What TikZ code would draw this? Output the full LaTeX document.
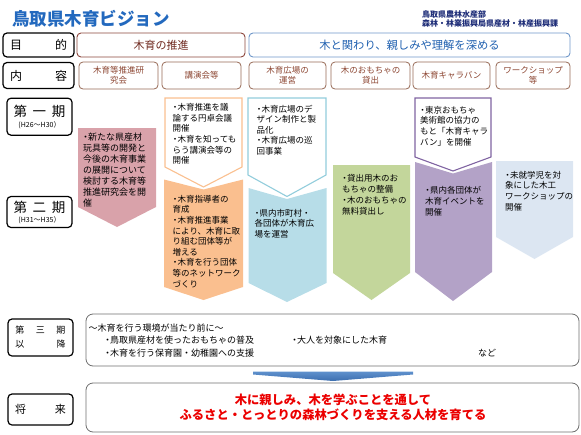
\documentclass[tikz,border=0pt]{standalone}
\usepackage{fontspec}
\setmainfont{Noto Sans CJK JP}
\definecolor{titleblue}{RGB}{35,105,190}
\definecolor{navy}{RGB}{30,45,120}
\definecolor{hdbrownline}{RGB}{140,70,60}
\definecolor{hdbrowntext}{RGB}{110,40,30}
\definecolor{hdblueline}{RGB}{110,150,200}
\definecolor{hdbluetext}{RGB}{30,95,175}
\definecolor{ctline}{RGB}{150,105,85}
\definecolor{cttext}{RGB}{140,70,50}
\definecolor{pinkfill}{RGB}{217,162,170}
\definecolor{orline}{RGB}{250,192,144}
\definecolor{orfill}{RGB}{250,191,143}
\definecolor{blline}{RGB}{146,205,220}
\definecolor{blfill}{RGB}{183,221,232}
\definecolor{grfill}{RGB}{195,214,155}
\definecolor{puline}{RGB}{128,100,162}
\definecolor{pufill}{RGB}{179,162,199}
\definecolor{lvfill}{RGB}{220,230,242}
\definecolor{grayline}{RGB}{110,110,110}
\definecolor{arrowtop}{RGB}{95,145,205}
\definecolor{arrowbot}{RGB}{60,110,175}
\definecolor{redtext}{RGB}{235,0,0}
\newcommand\jpbul{\makebox[5pt][c]{・}}
\begin{document}
\begin{tikzpicture}[x=1pt,y=-1pt,
  lblbox/.style={draw=black, line width=1.2pt, rounded corners=4pt, inner sep=0pt, align=center},
  hdbox/.style={draw, line width=0.9pt, rounded corners=4pt, inner sep=0pt, minimum height=24pt, font=\fontsize{11}{13}\selectfont},
  ctbox/.style={draw=ctline, line width=0.8pt, rounded corners=4pt, inner sep=0pt, minimum height=27pt, text=cttext, align=center, font=\fontsize{8.5}{10.5}\selectfont},
  bigbox/.style={draw=grayline, line width=0.8pt, rounded corners=7pt, inner sep=0pt, minimum width=493pt},
  coltext/.style={anchor=north west, inner sep=0pt, align=left, font=\fontsize{8.5}{10.6}\selectfont},
  txt/.style={inner sep=0pt}
]
\useasboundingbox (0,0) rectangle (581,434);

% title
\node[txt, anchor=west, text=titleblue, font=\fontsize{17.5}{20}\selectfont\bfseries] (title) at (12,18.5) {鳥取県木育ビジョン};
\node[txt, anchor=west, text=navy, font=\fontsize{8}{9}\selectfont\bfseries] (dept1) at (422,14) {鳥取県農林水産部};
\node[txt, anchor=west, text=navy, font=\fontsize{8}{9}\selectfont\bfseries] (dept2) at (422,23.5) {森林・林業振興局県産材・林産振興課};

% row labels
\node[lblbox, minimum width=71pt, minimum height=24pt, font=\fontsize{12}{14}\selectfont] (mokuteki) at (38.5,45) {\makebox[57pt]{目\hfill 的}};
\node[lblbox, minimum width=71pt, minimum height=26pt, font=\fontsize{12}{14}\selectfont] (naiyou) at (38.5,75.5) {\makebox[57pt]{内\hfill 容}};

% header boxes
\node[hdbox, draw=hdbrownline, text=hdbrowntext, minimum width=168pt] (suishin) at (161,45) {木育の推進};
\node[hdbox, draw=hdblueline, text=hdbluetext, minimum width=321pt, font=\fontsize{11.3}{13}\selectfont] (fukameru) at (409.5,45) {木と関わり、親しみや理解を深める};

% content boxes
\node[ctbox, minimum width=79pt] (c1) at (118.5,75.5) {木育等推進研\\究会};
\node[ctbox, minimum width=79pt] (c2) at (201.5,75.5) {講演会等};
\node[ctbox, minimum width=77pt] (c3) at (287.5,75.5) {木育広場の\\運営};
\node[ctbox, minimum width=79pt] (c4) at (370.5,75.5) {木のおもちゃの\\貸出};
\node[ctbox, minimum width=77pt] (c5) at (451.5,75.5) {木育キャラバン};
\node[ctbox, minimum width=74pt] (c6) at (533,75.5) {ワークショップ\\等};

% period labels
\node[lblbox, minimum width=65pt, minimum height=37pt] (ki1) at (39.5,116.7)
  {{\fontsize{13.5}{15}\selectfont\makebox[52pt]{第\hfill 一\hfill 期}}\\[-1pt]{\fontsize{7}{8}\selectfont (H26～H30）}};
\node[lblbox, minimum width=65pt, minimum height=31pt] (ki2) at (39.5,212)
  {{\fontsize{13.5}{15}\selectfont\makebox[52pt]{第\hfill 二\hfill 期}}\\[-2pt]{\fontsize{7}{8}\selectfont (H31～H35）}};

% column 1 (pink)
\fill[pinkfill] (78,128) -- (156,128) -- (156,207) -- (117,227) -- (78,207) -- cycle;
\node[coltext, font=\fontsize{9}{11}\selectfont] (t1) at (83,132.5) {\jpbul 新たな県産材\\玩具等の開発と\\今後の木育事業\\の展開について\\検討する木育等\\推進研究会を開\\催};

% column 2 (orange)
\draw[orline, line width=1.1pt, fill=white] (165,98) -- (242,98) -- (242,167) -- (203.5,187) -- (165,167) -- cycle;
\fill[orfill] (164,179.5) -- (203.5,189.5) -- (243,179.5) -- (243,287) -- (203.5,300) -- (164,287) -- cycle;
\node[coltext] (t2a) at (172.5,103.4) {\jpbul 木育推進を議\\論する円卓会議\\開催\\\jpbul 木育を知っても\\らう講演会等の\\開催};
\node[coltext] (t2b) at (172.5,195) {\jpbul 木育指導者の\\育成\\\jpbul 木育推進事業\\により、木育に取\\り組む団体等が\\増える\\\jpbul 木育を行う団体\\等のネットワーク\\づくり};

% column 3 (blue)
\draw[blline, line width=1.1pt, fill=white] (248,98) -- (326,98) -- (326,175) -- (287,196.5) -- (248,175) -- cycle;
\fill[blfill] (248.5,188) -- (287,199) -- (326.5,188) -- (326.5,283) -- (287,302) -- (248.5,283) -- cycle;
\node[coltext] (t3a) at (256.5,104.7) {\jpbul 木育広場のデ\\ザイン制作と製\\品化\\\jpbul 木育広場の巡\\回事業};
\node[coltext] (t3b) at (254.5,209) {\jpbul 県内市町村・\\各団体が木育広\\場を運営};

% column 4 (green)
\fill[grfill] (333,165) -- (410,165) -- (410,273) -- (371.5,300) -- (333,273) -- cycle;
\node[coltext, font=\fontsize{8.5}{11}\selectfont] (t4) at (342,174) {\jpbul 貸出用木のお\\もちゃの整備\\\jpbul 木のおもちゃの\\無料貸出し};

% column 5 (purple)
\draw[puline, line width=1.1pt, fill=white] (415,98) -- (491,98) -- (491,157) -- (453,171) -- (415,157) -- cycle;
\fill[pufill] (415,162) -- (453,173.5) -- (492,162) -- (492,272) -- (453,301) -- (415,272) -- cycle;
\node[coltext, font=\fontsize{8.5}{10.8}\selectfont] (t5a) at (420,105.7) {\jpbul 東京おもちゃ\\美術館の協力の\\もと「木育キャラ\\バン」を開催};
\node[coltext, font=\fontsize{8.5}{11}\selectfont] (t5b) at (425,186) {\jpbul 県内各団体が\\木育イベントを\\開催};

% column 6 (lavender)
\fill[lvfill] (496,161) -- (573,161) -- (573,237) -- (534.5,259) -- (496,237) -- cycle;
\node[coltext, font=\fontsize{8.5}{10.8}\selectfont] (t6) at (505,170.7) {\jpbul 未就学児を対\\象にした木工\\ワークショップの\\開催};

% third period
\node[lblbox, minimum width=65pt, minimum height=37pt, font=\fontsize{9}{14}\selectfont] (ki3) at (40.5,337.5)
  {\makebox[50pt]{第\hfill 三\hfill 期}\\\makebox[50pt]{以\hfill 降}};
\node[bigbox, minimum height=52pt] (future3) at (332.5,340) {};
\node[txt, anchor=west, font=\fontsize{9}{11}\selectfont] (f3a) at (88.5,328.5) {～木育を行う環境が当たり前に～};
\node[txt, anchor=west, font=\fontsize{9}{11}\selectfont] (f3b) at (105,340.5) {\jpbul 鳥取県産材を使ったおもちゃの普及};
\node[txt, anchor=west, font=\fontsize{9}{11}\selectfont] (f3c) at (292,340.5) {\jpbul 大人を対象にした木育};
\node[txt, anchor=west, font=\fontsize{9}{11}\selectfont] (f3d) at (105,353) {\jpbul 木育を行う保育園・幼稚園への支援};
\node[txt, anchor=west, font=\fontsize{9}{11}\selectfont] (f3e) at (478,353) {など};

% arrow
\shade[top color=arrowtop, bottom color=arrowbot] (253,371.5) -- (413,371.5) -- (413,374.5) -- (333,381) -- (253,374.5) -- cycle;

% future
\node[lblbox, minimum width=65pt, minimum height=31pt, font=\fontsize{11}{13}\selectfont] (shourai) at (40.5,409.5) {\makebox[51pt]{将\hfill 来}};
\node[bigbox, minimum height=49pt] (futurebox) at (332.5,407.5) {};
\node[txt, text=redtext, align=center, font=\fontsize{12.3}{15.5}\selectfont\bfseries] (goal) at (333,407.5) {木に親しみ、木を学ぶことを通して\\ふるさと・とっとりの森林づくりを支える人材を育てる};
\end{tikzpicture}
\end{document}
